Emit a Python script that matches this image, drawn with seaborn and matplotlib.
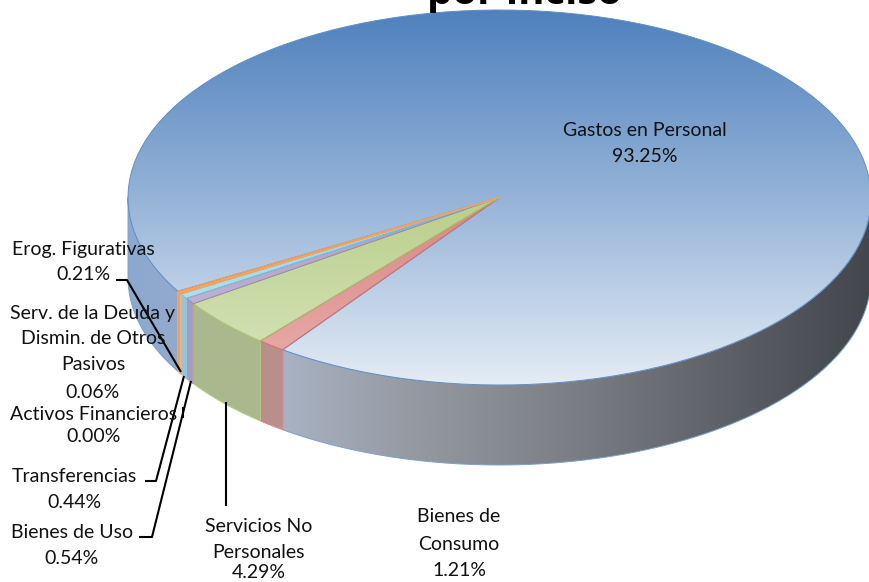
import numpy as np
import matplotlib
matplotlib.use("Agg")
import matplotlib.pyplot as plt
from matplotlib.colors import LinearSegmentedColormap, to_rgb
from matplotlib.path import Path
from matplotlib.patches import PathPatch
import seaborn as sns

categories = ["Gastos en Personal", "Bienes de Consumo", "Servicios No Personales",
              "Bienes de Uso", "Transferencias", "Activos Financieros",
              "Serv. de la Deuda y Dismin. de Otros Pasivos", "Erog. Figurativas"]
values = [93.25, 1.21, 4.29, 0.54, 0.44, 0.00, 0.06, 0.21]
title_text = "por inciso"

top_colors = ["#4f81bd", "#d0605c", "#9bbb59", "#8f78b4", "#62c0d8", "#f79646", "#f79646", "#f79646"]
top_light = [0.85, 0.50, 0.62, 0.55, 0.65, 0.2, 0.2, 0.2]
side_colors = [None, "#b98f8a", "#abb88e", "#a79cc0", "#9cc4d4", "#e8a060", "#e8a060", "#e8a060"]
blue_side = [(0.0, "#8ca8d0"), (0.08, "#95aacb"), (0.21, "#a8b2c2"), (0.40, "#93979f"),
             (0.60, "#7b7e85"), (0.85, "#575a60"), (1.0, "#43474d")]

label_lines = {
    "Gastos en Personal": (645, [("Gastos en Personal", 130), ("93.25%", 156)]),
    "Erog. Figurativas": (83, [("Erog. Figurativas", 249), ("0.21%", 275)]),
    "Serv": (93, [("Serv. de la Deuda y", 313), ("Dismin. de Otros", 339), ("Pasivos", 365), ("0.06%", 392)]),
    "Activos": (94, [("Activos Financieros", 414), ("0.00%", 437)]),
    "Transf": (74, [("Transferencias", 477), ("0.44%", 503)]),
    "Uso": (72, [("Bienes de Uso", 533), ("0.54%", 558)]),
    "SNP": (259, [("Servicios No", 526), ("Personales", 552), ("4.29%", 573)]),
    "BC": (459, [("Bienes de", 517), ("Consumo", 544), ("1.21%", 571)]),
}
leaders = [
    [(116, 280), (127, 280), (181, 372)],
    [(145, 481), (156, 481), (184, 376)],
    [(139, 537), (152, 537), (191, 381)],
    [(183, 407), (183, 418)],
    [(226, 402), (226, 506)],
]

W, H = 870, 582
CX, CY, RX, RY, DEPTH = 499.5, 197.5, 371.5, 187.5, 80

sns.set_theme(style="white")
plt.rcParams["font.family"] = ["Lato", "DejaVu Sans"]

fig = plt.figure(figsize=(W / 100, H / 100), dpi=100)
ax = fig.add_axes([0, 0, 1, 1])
wedges, _ = ax.pie(values, startangle=-150, counterclock=False, radius=1)
xlim = ((0 - CX) / RX, (W - CX) / RX)
ylim = (-(H - CY) / RY, CY / RY)
d = DEPTH / RY


def mix(c, t):
    c = np.array(to_rgb(c))
    return tuple(c + (1 - c) * t)


def side_path(a, b):
    th = np.radians(np.linspace(a, b, 120))
    x, y = np.cos(th), np.sin(th)
    return Path(np.r_[np.c_[x, y], np.c_[x[::-1], y[::-1] - d], [[x[0], y[0]]]])


grad_x = np.linspace(0, 1, 512).reshape(1, -1)
grad_y = np.linspace(0, 1, 512).reshape(-1, 1)
for w, top, side, light in zip(wedges, top_colors, side_colors, top_light):
    w.set_facecolor("none")
    w.set_edgecolor("none")
    if w.theta2 - w.theta1 < 1e-6:
        continue
    if side is None:
        cmap = LinearSegmentedColormap.from_list("bs", blue_side)
    else:
        cmap = LinearSegmentedColormap.from_list("s", [side, side])
    for k in range(-3, 3):
        a, b = max(w.theta1, 180 + 360 * k), min(w.theta2, 360 + 360 * k)
        if b > a:
            patch = PathPatch(side_path(a, b), facecolor="none",
                              edgecolor=mix(top, 0.25), lw=0.7, zorder=2)
            ax.add_patch(patch)
            im = ax.imshow(grad_x, cmap=cmap, extent=(-1, 1, -1 - d, 1), aspect="auto",
                           vmin=0, vmax=1, zorder=1)
            im.set_clip_path(patch)
    tcmap = LinearSegmentedColormap.from_list("t", [top, mix(top, light * 0.47), mix(top, light)])
    im = ax.imshow(grad_y, cmap=tcmap, extent=(-1, 1, -1, 1), aspect="auto",
                   vmin=0, vmax=1, origin="upper", zorder=3)
    im.set_clip_path(w)
    w.set_edgecolor(mix(top, 0.1))
    w.set_linewidth(0.7)
    w.set_zorder(4)

ax.set_aspect("auto")
ax.set_xlim(*xlim)
ax.set_ylim(*ylim)
ax.axis("off")

ov = fig.add_axes([0, 0, 1, 1], facecolor="none")
ov.set_xlim(0, W)
ov.set_ylim(H, 0)
ov.axis("off")
for pts in leaders:
    xs, ys = zip(*pts)
    ov.plot(xs, ys, color="black", lw=1.5, solid_capstyle="butt", zorder=6)
for key, (cx, lines) in label_lines.items():
    for txt, y in lines:
        ov.text(cx, y, txt, ha="center", va="center", fontsize=14, color="#111111", zorder=7)
ov.text(525, 4, title_text, ha="center", va="baseline", fontsize=29, fontweight="bold",
        family=["Open Sans", "DejaVu Sans"], color="black", zorder=0)

fig.savefig("out.png", dpi=100)
